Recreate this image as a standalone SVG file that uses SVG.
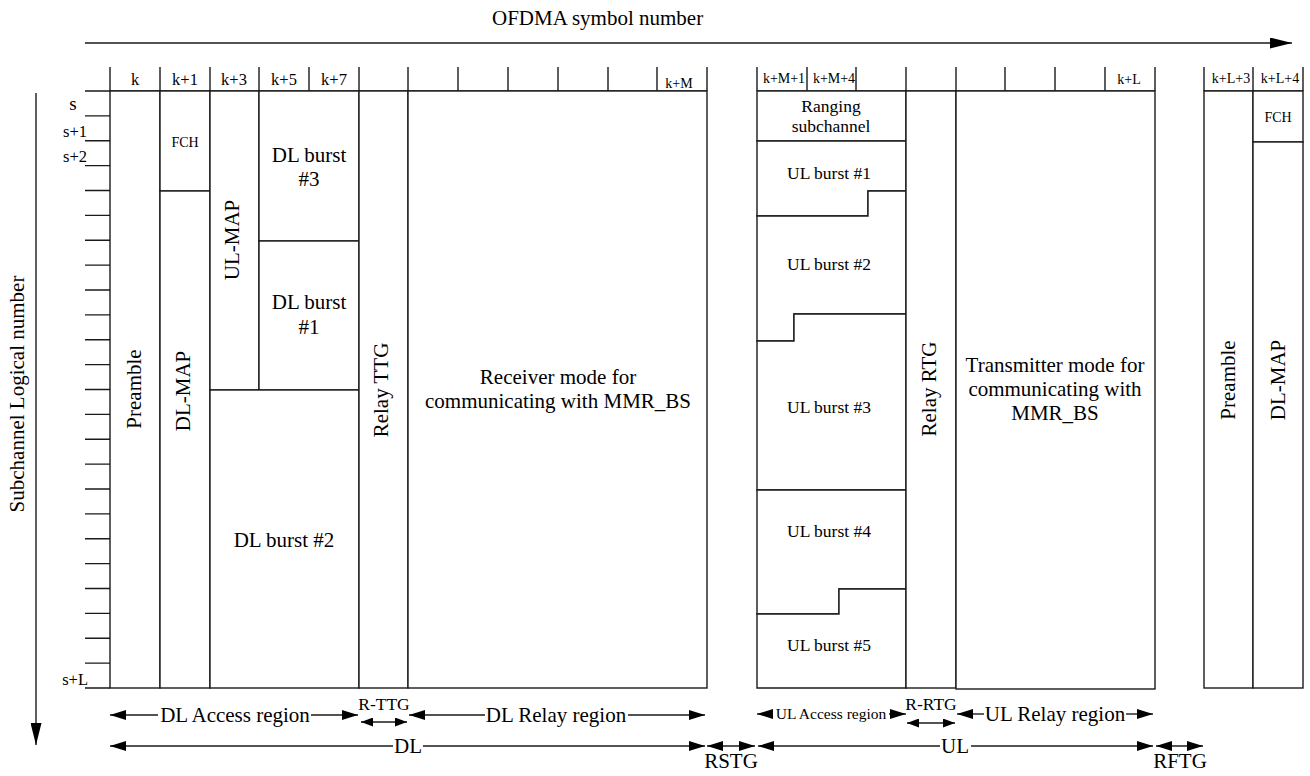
<svg xmlns="http://www.w3.org/2000/svg" width="1310" height="776" viewBox="0 0 1310 776">
<defs>
<style>
.ln{stroke:#1a1a1a;stroke-width:1.4;fill:none}
.bx{stroke:#1a1a1a;stroke-width:1.4;fill:#fff}
.t{font-family:"Liberation Serif","Times New Roman",serif;fill:#000}
.c{text-anchor:middle}
.e{text-anchor:end}
.big{font-size:21px}
.mid{font-size:17.5px}
.hdr{font-size:16.5px}
.sm{font-size:14px}
</style>
<marker id="ah" markerUnits="userSpaceOnUse" markerWidth="16" markerHeight="10" refX="16" refY="5" orient="auto-start-reverse"><path d="M0,0 L16,5 L0,10 z" fill="#000"/></marker>
<marker id="as" markerUnits="userSpaceOnUse" markerWidth="12" markerHeight="9" refX="12" refY="4.5" orient="auto-start-reverse"><path d="M0,0 L12,4.5 L0,9 z" fill="#000"/></marker>
<marker id="ax" markerUnits="userSpaceOnUse" markerWidth="22" markerHeight="11" refX="22" refY="5.5" orient="auto"><path d="M0,0 L22,5.5 L0,11 z" fill="#000"/></marker>
</defs>
<rect width="1310" height="776" fill="#fff"/>

<g id="axes">
<text class="t big" x="492" y="25">OFDMA symbol number</text>
<line class="ln" x1="85" y1="43" x2="1292" y2="43" marker-end="url(#ax)"/>
<text class="t big c" transform="translate(24,394) rotate(-90)">Subchannel Logical number</text>
<line class="ln" x1="36" y1="93" x2="36" y2="745" marker-end="url(#ax)"/>
</g>

<g id="header">
<path class="ln" d="M85,91 H707 M110,67 V91 M160,67 V91 M210,67 V91 M259,67 V91 M309,67 V91 M359,67 V91 M408,67 V91 M458,67 V91 M508,67 V91 M558,67 V91 M608,67 V91 M657,67 V91 M707,67 V91"/>
<path class="ln" d="M757,91 H1155 M757,67 V91 M807,67 V91 M856,67 V91 M906,67 V91 M956,67 V91 M1005,67 V91 M1055,67 V91 M1105,67 V91 M1155,67 V91"/>
<path class="ln" d="M1204,91 H1303 M1204,67 V91 M1253,67 V91 M1303,67 V91"/>
<text class="t hdr c" x="135" y="85">k</text>
<text class="t hdr c" x="185" y="85">k+1</text>
<text class="t hdr c" x="234" y="85">k+3</text>
<text class="t hdr c" x="284" y="85">k+5</text>
<text class="t hdr c" x="334" y="85">k+7</text>
<text class="t sm c" x="679" y="88">k+M</text>
<text class="t sm c" x="784" y="83">k+M+1</text>
<text class="t sm c" x="834" y="83">k+M+4</text>
<text class="t sm c" x="1129" y="84">k+L</text>
<text class="t sm c" x="1231" y="83">k+L+3</text>
<text class="t sm c" x="1280" y="83">k+L+4</text>
</g>

<g id="ticks">
<path class="ln" d="M85,115.9 H110 M85,140.8 H110 M85,165.6 H110 M85,190.5 H110 M85,215.4 H110 M85,240.3 H110 M85,265.1 H110 M85,290 H110 M85,314.9 H110 M85,339.8 H110 M85,364.6 H110 M85,389.5 H110 M85,414.4 H110 M85,439.3 H110 M85,464.1 H110 M85,489 H110 M85,513.9 H110 M85,538.8 H110 M85,563.6 H110 M85,588.5 H110 M85,613.4 H110 M85,638.3 H110 M85,663.1 H110 M85,688 H110"/>
<text class="t c" style="font-size:19px" x="73" y="110">s</text>
<text class="t hdr e" x="87" y="137">s+1</text>
<text class="t hdr e" x="87" y="162">s+2</text>
<text class="t hdr e" x="88" y="685">s+L</text>
</g>

<g id="preamble">
<rect class="bx" x="110" y="91" width="50" height="597"/>
<text class="t big c" transform="translate(141,389) rotate(-90)">Preamble</text>
</g>
<g id="fch">
<rect class="bx" x="160" y="91" width="50" height="100"/>
<text class="t sm c" x="185" y="147">FCH</text>
</g>
<g id="dl-map">
<rect class="bx" x="160" y="191" width="50" height="497"/>
<text class="t big c" transform="translate(190,391) rotate(-90)">DL-MAP</text>
</g>
<g id="ul-map">
<rect class="bx" x="210" y="91" width="49" height="299"/>
<text class="t big c" transform="translate(239,240) rotate(-90)">UL-MAP</text>
</g>
<g id="dl-burst-3">
<rect class="bx" x="259" y="91" width="100" height="150"/>
<text class="t big c" x="309" y="162">DL burst</text>
<text class="t big c" x="309" y="186">#3</text>
</g>
<g id="dl-burst-1">
<rect class="bx" x="259" y="241" width="100" height="149"/>
<text class="t big c" x="309" y="309">DL burst</text>
<text class="t big c" x="309" y="334">#1</text>
</g>
<g id="dl-burst-2">
<rect class="bx" x="210" y="390" width="149" height="298"/>
<text class="t big c" x="284" y="547">DL burst #2</text>
</g>
<g id="relay-ttg">
<rect class="bx" x="359" y="91" width="49" height="597"/>
<text class="t big c" transform="translate(388,390) rotate(-90)">Relay TTG</text>
</g>
<g id="receiver">
<rect class="bx" x="408" y="91" width="299" height="597"/>
<text class="t big c" x="558" y="384">Receiver mode for</text>
<text class="t big c" x="558" y="408">communicating with MMR_BS</text>
</g>

<g id="ranging">
<rect class="bx" x="757" y="91" width="149" height="50"/>
<text class="t mid c" x="831" y="112">Ranging</text>
<text class="t mid c" x="831" y="132">subchannel</text>
</g>
<g id="ul-burst-1">
<polygon class="bx" points="757,141 906,141 906,191 868,191 868,216 757,216"/>
<text class="t mid c" x="829" y="179">UL burst #1</text>
</g>
<g id="ul-burst-2">
<polygon class="bx" points="757,216 868,216 868,191 906,191 906,314 794,314 794,341 757,341"/>
<text class="t mid c" x="829" y="270">UL burst #2</text>
</g>
<g id="ul-burst-3">
<polygon class="bx" points="757,341 794,341 794,314 906,314 906,490 757,490"/>
<text class="t mid c" x="829" y="413">UL burst #3</text>
</g>
<g id="ul-burst-4">
<polygon class="bx" points="757,490 906,490 906,589 839,589 839,614 757,614"/>
<text class="t mid c" x="829" y="537">UL burst #4</text>
</g>
<g id="ul-burst-5">
<polygon class="bx" points="757,614 839,614 839,589 906,589 906,688 757,688"/>
<text class="t mid c" x="829" y="651">UL burst #5</text>
</g>
<g id="relay-rtg">
<rect class="bx" x="906" y="91" width="50" height="597"/>
<text class="t big c" transform="translate(936,389) rotate(-90)">Relay RTG</text>
</g>
<g id="transmitter">
<rect class="bx" x="956" y="91" width="199" height="598"/>
<text class="t big c" x="1055" y="372">Transmitter mode for</text>
<text class="t big c" x="1055" y="396">communicating with</text>
<text class="t big c" x="1055" y="420">MMR_BS</text>
</g>

<g id="preamble-2">
<rect class="bx" x="1204" y="91" width="49" height="597"/>
<text class="t big c" transform="translate(1235,380) rotate(-90)">Preamble</text>
</g>
<g id="fch-2">
<rect class="bx" x="1253" y="91" width="50" height="51"/>
<text class="t sm c" x="1278" y="122">FCH</text>
</g>
<g id="dl-map-2">
<rect class="bx" x="1253" y="142" width="50" height="546"/>
<text class="t big c" transform="translate(1285,380) rotate(-90)">DL-MAP</text>
</g>

<g id="connectors">
<line class="ln" x1="110" y1="715" x2="158" y2="715" marker-start="url(#ah)"/>
<line class="ln" x1="311" y1="715" x2="358" y2="715" marker-end="url(#ah)"/>
<text class="t big c" x="235" y="722">DL Access region</text>
<text class="t mid c" x="384" y="710">R-TTG</text>
<line class="ln" x1="361" y1="722" x2="407" y2="722" marker-start="url(#as)" marker-end="url(#as)"/>
<line class="ln" x1="409" y1="715" x2="485" y2="715" marker-start="url(#ah)"/>
<line class="ln" x1="628" y1="715" x2="705" y2="715" marker-end="url(#ah)"/>
<text class="t big c" x="556" y="722">DL Relay region</text>

<line class="ln" x1="757" y1="714" x2="773" y2="714" marker-start="url(#ah)"/>
<line class="ln" x1="889" y1="714" x2="906" y2="714" marker-end="url(#ah)"/>
<text class="t c" style="font-size:15.5px" x="831" y="719">UL Access region</text>
<text class="t mid c" x="931" y="710">R-RTG</text>
<line class="ln" x1="907" y1="723" x2="955" y2="723" marker-start="url(#as)" marker-end="url(#as)"/>
<line class="ln" x1="957" y1="714" x2="984" y2="714" marker-start="url(#ah)"/>
<line class="ln" x1="1126" y1="714" x2="1153" y2="714" marker-end="url(#ah)"/>
<text class="t big c" x="1055" y="721">UL Relay region</text>

<line class="ln" x1="110" y1="746" x2="393" y2="746" marker-start="url(#ah)"/>
<line class="ln" x1="423" y1="746" x2="705" y2="746" marker-end="url(#ah)"/>
<text class="t big c" x="408" y="753">DL</text>
<line class="ln" x1="707" y1="746" x2="755" y2="746" marker-start="url(#ah)" marker-end="url(#ah)"/>
<text class="t big c" x="731" y="768">RSTG</text>
<line class="ln" x1="758" y1="746" x2="940" y2="746" marker-start="url(#ah)"/>
<line class="ln" x1="971" y1="746" x2="1153" y2="746" marker-end="url(#ah)"/>
<text class="t big c" x="955" y="753">UL</text>
<line class="ln" x1="1156" y1="746" x2="1203" y2="746" marker-start="url(#ah)" marker-end="url(#ah)"/>
<text class="t big c" x="1180" y="768">RFTG</text>
</g>
</svg>
